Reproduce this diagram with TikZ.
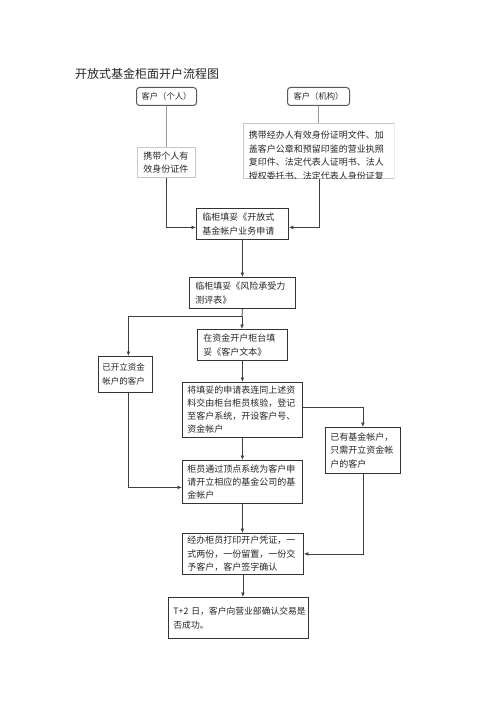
\documentclass[tikz,border=0pt]{standalone}
\usepackage{fontspec}
\newfontfamily\cjk{Noto Sans CJK SC}
\usetikzlibrary{arrows.meta}
\tikzset{
  base/.style={inner ysep=2pt, inner xsep=6pt, align=left, anchor=north west,
    font=\cjk\fontsize{9}{13.5}\selectfont, text=black!85},
  mainbox/.style={base, draw=black!80, line width=0.8pt},
  greybox/.style={base, draw=black!22, line width=0.8pt},
  roundbox/.style={draw=black!65, line width=1pt, rounded corners=3pt, inner sep=0pt,
    anchor=north west, align=center, font=\cjk\fontsize{8.3}{10}\selectfont, text=black!85},
  conn/.style={draw=black!75, line width=0.8pt},
  lightconn/.style={draw=black!40, line width=0.7pt},
  arr/.style={conn, -{Latex[length=4.5pt,width=3.8pt]}}
}
\begin{document}
\begin{tikzpicture}[x=1pt,y=-1pt]
\useasboundingbox (0,0) rectangle (500,708);
\fill[white] (0,0) rectangle (500,708);

\node[anchor=west, inner sep=0pt, font=\cjk\fontsize{12}{14}\selectfont, text=black!85] (title) at (75,74) {开放式基金柜面开户流程图};

\node[roundbox, minimum width=60pt, minimum height=18pt] (p) at (136,87) {客户（个人）};
\node[roundbox, minimum width=62pt, minimum height=18pt] (o) at (287,87) {客户（机构）};

\node[greybox, minimum width=58pt, minimum height=30pt, text width=46pt] (pd) at (137,147) {携带个人有\\效身份证件};

\begin{scope}
\clip (242.6,122.6) rectangle (394.4,178.4);
\node[greybox, minimum width=151pt, minimum height=55pt, text width=140pt, inner xsep=5.5pt] (od) at (243,123)
  {\raisebox{-4.5pt}[\height][\depth]{\parbox{140pt}{携带经办人有效身份证明文件、加\\盖客户公章和预留印鉴的营业执照\\复印件、法定代表人证明书、法人\\授权委托书、法定代表人身份证复}}};
\end{scope}

\node[mainbox, minimum width=92pt, minimum height=31pt, text width=80pt] (a1) at (196,208) {临柜填妥《开放式\\基金帐户业务申请};
\node[mainbox, minimum width=106pt, minimum height=31pt, text width=94pt] (a2) at (189,277) {临柜填妥《风险承受力\\测评表》};
\node[mainbox, minimum width=90pt, minimum height=31pt, text width=78pt] (a3) at (197,329) {在资金开户柜台填\\妥《客户文本》};
\node[mainbox, minimum width=54pt, minimum height=36pt, text width=46pt, inner xsep=4pt, font=\cjk\fontsize{8.5}{14.5}\selectfont] (b1) at (98,356) {已开立资金\\帐户的客户};
\node[mainbox, minimum width=120pt, minimum height=55pt, text width=110pt, inner xsep=5pt, font=\cjk\fontsize{9}{13}\selectfont] (a4) at (182,382) {将填妥的申请表连同上述资\\料交由柜台柜员核验，登记\\至客户系统，开设客户号、\\资金帐户};
\node[mainbox, minimum width=75pt, minimum height=46pt, text width=65pt, inner xsep=5pt] (c1) at (325,427) {已有基金帐户，\\只需开立资金帐\\户的客户};
\node[mainbox, minimum width=120pt, minimum height=43pt, text width=110pt, inner xsep=5pt, font=\cjk\fontsize{9}{13}\selectfont] (a5) at (182,460) {柜员通过顶点系统为客户申\\请开立相应的基金公司的基\\金帐户};
\node[mainbox, minimum width=121pt, minimum height=41pt, text width=111pt, inner xsep=5pt] (a6) at (182,533) {经办柜员打印开户凭证，一\\式两份，一份留置，一份交\\予客户，客户签字确认};
\node[mainbox, minimum width=140pt, minimum height=41pt, text width=130pt, inner xsep=5pt, font=\cjk\fontsize{8.8}{13.5}\selectfont] (a7) at (168,597) {\mbox{T+2 日，客户向营业部确认交易是}\\否成功。};

\coordinate (j1) at (242,316);

\draw[lightconn] (p) -- (pd);
\draw[lightconn] (o.south) -- (o.south |- od.north);
\draw[arr] (pd.south) |- ([yshift=-3.5pt]a1.west);
\draw[arr] (od.south) |- ([yshift=-3.5pt]a1.east);
\draw[arr] (a1.south) -- (a1.south |- a2.north);
\draw[conn] (a2.south) -- (j1);
\draw[arr] (j1) -| ([xshift=3pt]b1.north);
\draw[arr] (j1) -- (j1 |- a3.north);
\draw[arr] (a3.south) -- (a3.south |- a4.north);
\draw[arr] ([yshift=2.5pt]a4.east) -| (c1.north);
\draw[arr] (a4.south) -- (a4.south |- a5.north);
\draw[arr] ([xshift=3pt]b1.south) |- ([yshift=-5.5pt]a5.west);
\draw[arr] (a5.south) -- (a5.south |- a6.north);
\draw[arr] (c1.south) |- (a6.east);
\draw[arr] (a6.south) -- (a6.south |- a7.north);
\end{tikzpicture}
\end{document}
